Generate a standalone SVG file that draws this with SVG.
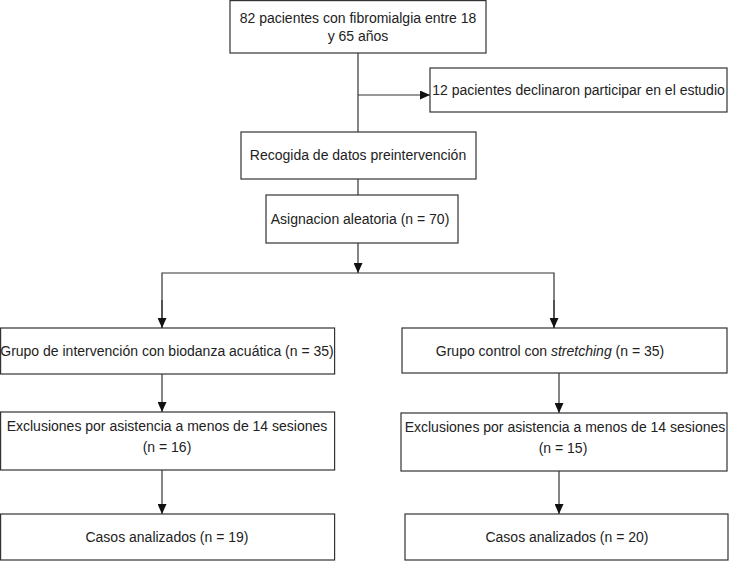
<svg xmlns="http://www.w3.org/2000/svg" width="729" height="561" viewBox="0 0 729 561">
<defs>
<style>
.box{fill:#fff;stroke:#333;stroke-width:1.2}
.t{font-family:"Liberation Sans",Arial,sans-serif;font-size:14px;fill:#222;text-anchor:middle}
.c{fill:none;stroke:#333;stroke-width:1.2}
</style>
<marker id="ah" viewBox="0 0 10 10" refX="10" refY="5" markerWidth="10" markerHeight="9" markerUnits="userSpaceOnUse" orient="auto" preserveAspectRatio="none">
<path d="M0,0 L10,5 L0,10 z" fill="#111"/>
</marker>
</defs>
<rect width="729" height="561" fill="#fff"/>
<g id="connectors">
<line class="c" x1="358" y1="53" x2="358" y2="132"/>
<line class="c" x1="358" y1="95" x2="430" y2="95" marker-end="url(#ah)"/>
<line class="c" x1="358" y1="179" x2="358" y2="195"/>
<line class="c" x1="358" y1="243" x2="358" y2="273" marker-end="url(#ah)"/>
<polyline class="c" points="162,328 162,273 554,273 554,328"/>
<line class="c" x1="162" y1="300" x2="162" y2="328" marker-end="url(#ah)"/>
<line class="c" x1="554" y1="300" x2="554" y2="328" marker-end="url(#ah)"/>
<line class="c" x1="162" y1="374" x2="162" y2="412" marker-end="url(#ah)"/>
<line class="c" x1="559" y1="373" x2="559" y2="413" marker-end="url(#ah)"/>
<line class="c" x1="162" y1="470" x2="162" y2="514" marker-end="url(#ah)"/>
<line class="c" x1="559" y1="471" x2="559" y2="514" marker-end="url(#ah)"/>
</g>
<g id="n1">
<rect class="box" x="230" y="0.6" width="256" height="52.4"/>
<text class="t" x="358" y="23">82 pacientes con fibromialgia entre 18</text>
<text class="t" x="358" y="41">y 65 años</text>
</g>
<g id="n2">
<rect class="box" x="430" y="68" width="297" height="44"/>
<text class="t" x="578.5" y="95">12 pacientes declinaron participar en el estudio</text>
</g>
<g id="n3">
<rect class="box" x="241" y="132" width="235" height="47"/>
<text class="t" x="358" y="160">Recogida de datos preintervención</text>
</g>
<g id="n4">
<rect class="box" x="266" y="195" width="192" height="48"/>
<text class="t" x="360" y="224">Asignacion aleatoria (n = 70)</text>
</g>
<g id="n5">
<rect class="box" x="0.6" y="328" width="334" height="46"/>
<text class="t" x="167" y="356">Grupo de intervención con biodanza acuática (n = 35)</text>
</g>
<g id="n6">
<rect class="box" x="402" y="328" width="325" height="45"/>
<text class="t" x="550" y="356">Grupo control con <tspan font-style="italic">stretching</tspan> (n = 35)</text>
</g>
<g id="n7">
<rect class="box" x="0.6" y="412" width="334" height="58"/>
<text class="t" x="167" y="431">Exclusiones por asistencia a menos de 14 sesiones</text>
<text class="t" x="167" y="452">(n = 16)</text>
</g>
<g id="n8">
<rect class="box" x="0.6" y="514" width="334" height="46"/>
<text class="t" x="167" y="542">Casos analizados (n = 19)</text>
</g>
<g id="n9">
<rect class="box" x="401" y="413" width="326" height="58"/>
<text class="t" x="565" y="432">Exclusiones por asistencia a menos de 14 sesiones</text>
<text class="t" x="563" y="453">(n = 15)</text>
</g>
<g id="n10">
<rect class="box" x="405" y="514" width="323" height="46"/>
<text class="t" x="567" y="542">Casos analizados (n = 20)</text>
</g>
</svg>
